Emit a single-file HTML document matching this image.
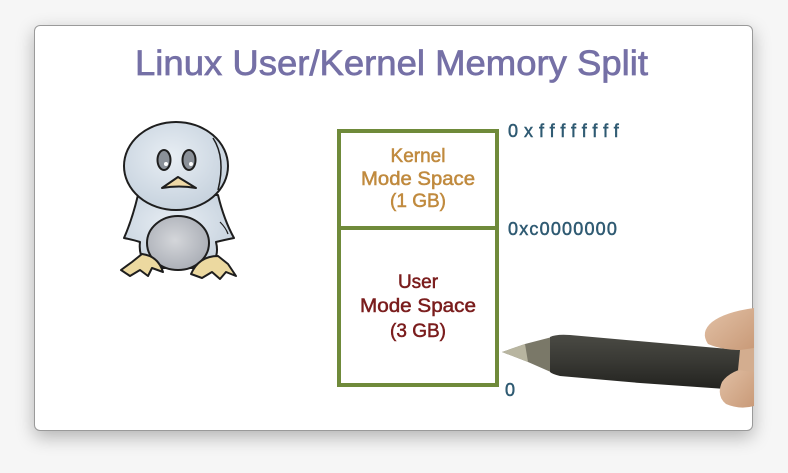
<!DOCTYPE html>
<html><head><meta charset="utf-8"><style>
html,body{margin:0;padding:0;width:788px;height:473px;overflow:hidden;background:#f6f6f6;}
.card{position:absolute;left:34px;top:25px;width:719px;height:406px;background:#fff;border-radius:6px;border:1px solid #9a9a9a;box-sizing:border-box;box-shadow:0 6px 18px rgba(0,0,0,0.28);}
svg{position:absolute;left:0;top:0;}
</style></head><body>
<div class="card"></div>
<svg width="788" height="473" viewBox="0 0 788 473" xmlns="http://www.w3.org/2000/svg">
<defs>
<radialGradient id="pg" cx="45%" cy="40%" r="65%"><stop offset="0" stop-color="#e8eef4"/><stop offset="1" stop-color="#c4d0dc"/></radialGradient>
<radialGradient id="bg" cx="45%" cy="45%" r="60%"><stop offset="0" stop-color="#d4d6da"/><stop offset="1" stop-color="#a9adb5"/></radialGradient>
<linearGradient id="pen" x1="0" y1="0" x2="0" y2="1"><stop offset="0" stop-color="#4a4a44"/><stop offset="0.45" stop-color="#3a3a35"/><stop offset="1" stop-color="#22221f"/></linearGradient>
<linearGradient id="skin" x1="0" y1="0" x2="1" y2="1"><stop offset="0" stop-color="#e2c1a6"/><stop offset="1" stop-color="#c99a78"/></linearGradient>
</defs>
<!-- Title -->
<text x="135" y="75" font-family="Liberation Sans, sans-serif" font-size="35" fill="#7570a6" stroke="#7570a6" stroke-width="0.7" textLength="513" lengthAdjust="spacingAndGlyphs">Linux User/Kernel Memory Split</text>

<!-- Penguin -->
<g stroke="#1e1e1e" stroke-width="2" stroke-linejoin="round">
 <path d="M138 195 Q132 220 124 238 Q134 240 140 242 Q138 258 150 268 L208 268 Q220 258 216 242 Q224 240 234 238 Q224 220 218 195 Z" fill="url(#pg)"/>
 <ellipse cx="176" cy="166" rx="52" ry="44" fill="url(#pg)"/>
 <ellipse cx="178" cy="243" rx="31" ry="27" fill="url(#bg)"/>
 <path d="M121 270 L132 262 L142 254 Q158 256 163 272 L152 268 L148 276 L140 270 L130 276 Z" fill="#ecd9a0"/>
 <path d="M191 274 Q199 256 218 256 L228 264 L236 276 L226 272 L220 279 L212 272 L202 278 Z" fill="#ecd9a0"/>
 <ellipse cx="164" cy="160" rx="6.5" ry="10" fill="#8a9098"/>
 <ellipse cx="189" cy="160" rx="6.5" ry="10" fill="#8a9098"/>
 <path d="M162 188 L178 177 L196 188 Q179 185 162 188 Z" fill="#efd9a6"/>
</g>
<path d="M213 138 Q226 158 218 190" stroke="#1e1e1e" stroke-width="1.5" fill="none"/>
<path d="M220 222 Q226 228 228 234" stroke="#1e1e1e" stroke-width="1.2" fill="none"/>
<circle cx="166" cy="164" r="2" fill="#fff"/><circle cx="191" cy="164" r="2" fill="#fff"/>

<!-- Memory box -->
<g stroke="#6f8a3a" stroke-width="4" fill="none">
 <rect x="339" y="131" width="158" height="254"/>
 <line x1="339" y1="228" x2="497" y2="228"/>
</g>
<g font-family="Liberation Sans, sans-serif" font-size="19" text-anchor="middle" fill="#c08a3e" stroke="#c08a3e" stroke-width="0.5">
 <text x="418" y="162">Kernel</text>
 <text x="418" y="185" textLength="114" lengthAdjust="spacingAndGlyphs">Mode Space</text>
 <text x="418" y="207">(1 GB)</text>
</g>
<g font-family="Liberation Sans, sans-serif" font-size="19" text-anchor="middle" fill="#7a1c1c" stroke="#7a1c1c" stroke-width="0.5">
 <text x="418" y="288">User</text>
 <text x="418" y="312" textLength="116" lengthAdjust="spacingAndGlyphs">Mode Space</text>
 <text x="418" y="337">(3 GB)</text>
</g>
<g font-family="Liberation Sans, sans-serif" font-size="18" fill="#2f5a72" stroke="#2f5a72" stroke-width="0.5">
 <text x="508" y="137" letter-spacing="6">0xffffffff</text>
 <text x="508" y="235" letter-spacing="1.2">0xc0000000</text>
 <text x="505" y="396">0</text>
</g>

<!-- Pen -->
<path d="M502 352 L525 344 L552 337 L553 373 L528 362 Z" fill="#7a7868"/>
<path d="M502 352 L525 344 L528 362 Z" fill="#b8b5a0"/>
<path d="M550 337 Q556 334 570 335 L740 350 L740 390 L640 383 L560 376 Q552 374 550 372 Z" fill="url(#pen)"/>
<!-- Hand -->
<path d="M754 308 Q725 312 712 322 Q700 332 708 344 Q722 350 740 350 L754 350 Z" fill="url(#skin)"/>
<path d="M754 366 Q730 370 722 382 Q716 396 726 404 Q740 410 754 406 Z" fill="url(#skin)"/>
<path d="M754 348 L754 372 L738 370 L740 350 Z" fill="#d3ad8f"/>
</svg>
</body></html>
